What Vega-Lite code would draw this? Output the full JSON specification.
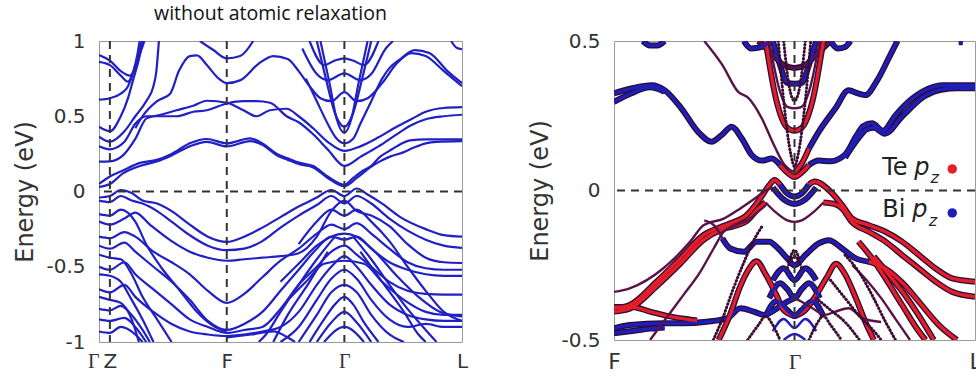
{
"$schema": "https://vega.github.io/schema/vega-lite/v6.json",
"padding": {"left": 13, "top": 3, "right": 0, "bottom": 0},
"bounds": "flush",
"spacing": 152,
"background": "white",
"config": {
  "view": {"stroke": "#9a9a9a", "strokeWidth": 1},
  "axis": {"grid": false, "ticks": false, "domain": false, "labelFont": "DejaVu Sans", "labelColor": "#333", "titleFont": "DejaVu Sans", "titleColor": "#333", "titleFontWeight": "normal", "labelFontSize": 20, "titleFontSize": 24}
},
"datasets": {
"left": [
{"b":"A1","k":0,"E":0.05},{"b":"A1","k":0.03,"E":0.1},{"b":"A1","k":0.066,"E":0.14},{"b":"A1","k":0.113,"E":0.19},{"b":"A1","k":0.159,"E":0.21},{"b":"A1","k":0.2,"E":0.25},{"b":"A1","k":0.25,"E":0.32},{"b":"A1","k":0.297,"E":0.349},{"b":"A1","k":0.352,"E":0.32},{"b":"A1","k":0.416,"E":0.353},{"b":"A1","k":0.45,"E":0.32},{"b":"A1","k":0.49,"E":0.25},{"b":"A1","k":0.52,"E":0.22},{"b":"A1","k":0.554,"E":0.19},{"b":"A1","k":0.59,"E":0.17},{"b":"A1","k":0.63,"E":0.1},{"b":"A1","k":0.676,"E":0.045},{"b":"A1","k":0.7,"E":0.09},{"b":"A1","k":0.728,"E":0.14},{"b":"A1","k":0.75,"E":0.17},{"b":"A1","k":0.774,"E":0.23},{"b":"A1","k":0.8,"E":0.27},{"b":"A1","k":0.82,"E":0.3},{"b":"A1","k":0.857,"E":0.34},{"b":"A1","k":0.9,"E":0.347},{"b":"A1","k":1,"E":0.347},
{"b":"A2","k":0,"E":0.03},{"b":"A2","k":0.03,"E":0.05},{"b":"A2","k":0.066,"E":0.12},{"b":"A2","k":0.113,"E":0.17},{"b":"A2","k":0.159,"E":0.2},{"b":"A2","k":0.2,"E":0.24},{"b":"A2","k":0.25,"E":0.3},{"b":"A2","k":0.297,"E":0.33},{"b":"A2","k":0.352,"E":0.3},{"b":"A2","k":0.416,"E":0.335},{"b":"A2","k":0.45,"E":0.31},{"b":"A2","k":0.49,"E":0.24},{"b":"A2","k":0.52,"E":0.21},{"b":"A2","k":0.554,"E":0.18},{"b":"A2","k":0.59,"E":0.16},{"b":"A2","k":0.63,"E":0.09},{"b":"A2","k":0.676,"E":0.035},{"b":"A2","k":0.71,"E":0.09},{"b":"A2","k":0.747,"E":0.16},{"b":"A2","k":0.774,"E":0.2},{"b":"A2","k":0.8,"E":0.23},{"b":"A2","k":0.838,"E":0.26},{"b":"A2","k":0.866,"E":0.29},{"b":"A2","k":0.9,"E":0.32},{"b":"A2","k":0.93,"E":0.33},{"b":"A2","k":1,"E":0.335},
{"b":"B1","k":0,"E":0.198},{"b":"B1","k":0.03,"E":0.2},{"b":"B1","k":0.066,"E":0.24},{"b":"B1","k":0.1,"E":0.35},{"b":"B1","k":0.131,"E":0.486},{"b":"B1","k":0.17,"E":0.51},{"b":"B1","k":0.214,"E":0.54},{"b":"B1","k":0.26,"E":0.57},{"b":"B1","k":0.297,"E":0.603},{"b":"B1","k":0.352,"E":0.59},{"b":"B1","k":0.398,"E":0.54},{"b":"B1","k":0.434,"E":0.5},{"b":"B1","k":0.471,"E":0.54},{"b":"B1","k":0.517,"E":0.55},{"b":"B1","k":0.55,"E":0.5},{"b":"B1","k":0.59,"E":0.42},{"b":"B1","k":0.63,"E":0.33},{"b":"B1","k":0.676,"E":0.27},{"b":"B1","k":0.72,"E":0.3},{"b":"B1","k":0.77,"E":0.36},{"b":"B1","k":0.82,"E":0.43},{"b":"B1","k":0.86,"E":0.48},{"b":"B1","k":0.9,"E":0.53},{"b":"B1","k":0.95,"E":0.555},{"b":"B1","k":1,"E":0.56},
{"b":"B2","k":0,"E":0.3},{"b":"B2","k":0.03,"E":0.28},{"b":"B2","k":0.07,"E":0.33},{"b":"B2","k":0.1,"E":0.45},{"b":"B2","k":0.13,"E":0.5},{"b":"B2","k":0.214,"E":0.5},{"b":"B2","k":0.26,"E":0.53},{"b":"B2","k":0.297,"E":0.54},{"b":"B2","k":0.352,"E":0.585},{"b":"B2","k":0.398,"E":0.6},{"b":"B2","k":0.434,"E":0.6},{"b":"B2","k":0.471,"E":0.59},{"b":"B2","k":0.517,"E":0.5},{"b":"B2","k":0.55,"E":0.46},{"b":"B2","k":0.59,"E":0.38},{"b":"B2","k":0.63,"E":0.28},{"b":"B2","k":0.676,"E":0.17},{"b":"B2","k":0.72,"E":0.23},{"b":"B2","k":0.77,"E":0.3},{"b":"B2","k":0.82,"E":0.38},{"b":"B2","k":0.86,"E":0.44},{"b":"B2","k":0.9,"E":0.48},{"b":"B2","k":0.95,"E":0.5},{"b":"B2","k":1,"E":0.51},
{"b":"D","k":0.1,"E":0.42},{"b":"D","k":0.12,"E":0.5},{"b":"D","k":0.16,"E":0.6},{"b":"D","k":0.196,"E":0.65},{"b":"D","k":0.22,"E":0.8},{"b":"D","k":0.25,"E":0.9},{"b":"D","k":0.27,"E":0.905},{"b":"D","k":0.297,"E":0.84},{"b":"D","k":0.33,"E":0.75},{"b":"D","k":0.352,"E":0.72},{"b":"D","k":0.39,"E":0.74},{"b":"D","k":0.44,"E":0.85},{"b":"D","k":0.48,"E":0.9},{"b":"D","k":0.52,"E":0.88},{"b":"D","k":0.55,"E":0.8},{"b":"D","k":0.58,"E":0.7},{"b":"D","k":0.61,"E":0.62},{"b":"D","k":0.64,"E":0.6},{"b":"D","k":0.676,"E":0.66},{"b":"D","k":0.71,"E":0.6},{"b":"D","k":0.74,"E":0.62},{"b":"D","k":0.78,"E":0.72},{"b":"D","k":0.82,"E":0.85},{"b":"D","k":0.86,"E":0.92},{"b":"D","k":0.9,"E":0.9},{"b":"D","k":0.95,"E":0.8},{"b":"D","k":1,"E":0.7},
{"b":"E1","k":0.278,"E":1.0},{"b":"E1","k":0.315,"E":0.94},{"b":"E1","k":0.352,"E":0.885},{"b":"E1","k":0.389,"E":0.9},{"b":"E1","k":0.425,"E":1.0},
{"b":"V1","k":0.6,"E":1.0},{"b":"V1","k":0.625,"E":0.75},{"b":"V1","k":0.65,"E":0.52},{"b":"V1","k":0.676,"E":0.43},{"b":"V1","k":0.7,"E":0.52},{"b":"V1","k":0.725,"E":0.75},{"b":"V1","k":0.75,"E":1.0},
{"b":"V2","k":0.61,"E":1.0},{"b":"V2","k":0.635,"E":0.72},{"b":"V2","k":0.655,"E":0.48},{"b":"V2","k":0.676,"E":0.39},{"b":"V2","k":0.695,"E":0.48},{"b":"V2","k":0.715,"E":0.72},{"b":"V2","k":0.74,"E":1.0},
{"b":"V3","k":0.57,"E":0.75},{"b":"V3","k":0.6,"E":0.6},{"b":"V3","k":0.63,"E":0.45},{"b":"V3","k":0.655,"E":0.35},{"b":"V3","k":0.676,"E":0.32},{"b":"V3","k":0.7,"E":0.35},{"b":"V3","k":0.72,"E":0.45},{"b":"V3","k":0.75,"E":0.6},{"b":"V3","k":0.78,"E":0.75},{"b":"V3","k":0.8,"E":0.82},{"b":"V3","k":0.83,"E":0.88},{"b":"V3","k":0.87,"E":0.94},{"b":"V3","k":0.91,"E":0.92},{"b":"V3","k":0.96,"E":0.8},{"b":"V3","k":1,"E":0.72},
{"b":"W1","k":0.58,"E":1.0},{"b":"W1","k":0.62,"E":0.84},{"b":"W1","k":0.65,"E":0.87},{"b":"W1","k":0.676,"E":0.885},{"b":"W1","k":0.7,"E":0.87},{"b":"W1","k":0.73,"E":0.84},{"b":"W1","k":0.77,"E":1.0},
{"b":"W2","k":0.56,"E":0.95},{"b":"W2","k":0.6,"E":0.78},{"b":"W2","k":0.63,"E":0.74},{"b":"W2","k":0.676,"E":0.785},{"b":"W2","k":0.72,"E":0.74},{"b":"W2","k":0.75,"E":0.78},{"b":"W2","k":0.79,"E":0.95},{"b":"W2","k":0.81,"E":1.0},
{"b":"S1","k":0,"E":0.907},{"b":"S1","k":0.03,"E":0.87},{"b":"S1","k":0.06,"E":0.8},{"b":"S1","k":0.085,"E":0.77},{"b":"S1","k":0.1,"E":0.82},{"b":"S1","k":0.115,"E":0.93},{"b":"S1","k":0.125,"E":1.0},
{"b":"S2","k":0,"E":0.862},{"b":"S2","k":0.03,"E":0.84},{"b":"S2","k":0.06,"E":0.77},{"b":"S2","k":0.08,"E":0.73},{"b":"S2","k":0.095,"E":0.8},{"b":"S2","k":0.108,"E":0.9},{"b":"S2","k":0.118,"E":1.0},
{"b":"S3","k":0,"E":0.61},{"b":"S3","k":0.03,"E":0.62},{"b":"S3","k":0.06,"E":0.65},{"b":"S3","k":0.08,"E":0.7},{"b":"S3","k":0.095,"E":0.8},{"b":"S3","k":0.105,"E":0.9},{"b":"S3","k":0.112,"E":1.0},
{"b":"S4","k":0,"E":0.43},{"b":"S4","k":0.03,"E":0.4},{"b":"S4","k":0.06,"E":0.5},{"b":"S4","k":0.08,"E":0.62},{"b":"S4","k":0.095,"E":0.75},{"b":"S4","k":0.11,"E":0.88},{"b":"S4","k":0.12,"E":1.0},
{"b":"S5","k":0,"E":0.364},{"b":"S5","k":0.03,"E":0.33},{"b":"S5","k":0.07,"E":0.4},{"b":"S5","k":0.1,"E":0.5},{"b":"S5","k":0.13,"E":0.6},{"b":"S5","k":0.15,"E":0.7},{"b":"S5","k":0.158,"E":0.8},{"b":"S5","k":0.165,"E":1.0},
{"b":"T1","k":0.97,"E":1.0},{"b":"T1","k":0.985,"E":0.955},{"b":"T1","k":1,"E":0.945},
{"b":"v1","k":0,"E":-0.04},{"b":"v1","k":0.03,"E":-0.03},{"b":"v1","k":0.06,"E":0.01},{"b":"v1","k":0.09,"E":-0.01},{"b":"v1","k":0.12,"E":-0.06},{"b":"v1","k":0.16,"E":-0.08},{"b":"v1","k":0.2,"E":-0.13},{"b":"v1","k":0.25,"E":-0.22},{"b":"v1","k":0.3,"E":-0.3},{"b":"v1","k":0.352,"E":-0.335},{"b":"v1","k":0.4,"E":-0.3},{"b":"v1","k":0.45,"E":-0.24},{"b":"v1","k":0.5,"E":-0.17},{"b":"v1","k":0.55,"E":-0.1},{"b":"v1","k":0.6,"E":-0.04},{"b":"v1","k":0.64,"E":0.01},{"b":"v1","k":0.676,"E":-0.03},{"b":"v1","k":0.71,"E":0.02},{"b":"v1","k":0.74,"E":-0.02},{"b":"v1","k":0.78,"E":-0.08},{"b":"v1","k":0.83,"E":-0.17},{"b":"v1","k":0.9,"E":-0.25},{"b":"v1","k":0.95,"E":-0.29},{"b":"v1","k":1,"E":-0.3},
{"b":"v2","k":0,"E":-0.06},{"b":"v2","k":0.03,"E":-0.07},{"b":"v2","k":0.06,"E":-0.03},{"b":"v2","k":0.09,"E":-0.06},{"b":"v2","k":0.12,"E":-0.08},{"b":"v2","k":0.16,"E":-0.13},{"b":"v2","k":0.2,"E":-0.2},{"b":"v2","k":0.25,"E":-0.29},{"b":"v2","k":0.3,"E":-0.36},{"b":"v2","k":0.352,"E":-0.39},{"b":"v2","k":0.4,"E":-0.38},{"b":"v2","k":0.45,"E":-0.33},{"b":"v2","k":0.5,"E":-0.24},{"b":"v2","k":0.55,"E":-0.16},{"b":"v2","k":0.6,"E":-0.09},{"b":"v2","k":0.64,"E":-0.03},{"b":"v2","k":0.676,"E":-0.08},{"b":"v2","k":0.71,"E":-0.03},{"b":"v2","k":0.75,"E":-0.08},{"b":"v2","k":0.8,"E":-0.18},{"b":"v2","k":0.85,"E":-0.26},{"b":"v2","k":0.9,"E":-0.32},{"b":"v2","k":0.95,"E":-0.36},{"b":"v2","k":1,"E":-0.375},
{"b":"v3","k":0,"E":-0.2},{"b":"v3","k":0.03,"E":-0.22},{"b":"v3","k":0.07,"E":-0.18},{"b":"v3","k":0.1,"E":-0.14},{"b":"v3","k":0.14,"E":-0.22},{"b":"v3","k":0.2,"E":-0.33},{"b":"v3","k":0.25,"E":-0.4},{"b":"v3","k":0.3,"E":-0.44},{"b":"v3","k":0.352,"E":-0.46},{"b":"v3","k":0.4,"E":-0.45},{"b":"v3","k":0.45,"E":-0.44},{"b":"v3","k":0.5,"E":-0.43},{"b":"v3","k":0.55,"E":-0.41},{"b":"v3","k":0.6,"E":-0.3},{"b":"v3","k":0.64,"E":-0.13},{"b":"v3","k":0.676,"E":-0.06},{"b":"v3","k":0.71,"E":-0.13},{"b":"v3","k":0.75,"E":-0.16},{"b":"v3","k":0.8,"E":-0.23},{"b":"v3","k":0.85,"E":-0.35},{"b":"v3","k":0.9,"E":-0.44},{"b":"v3","k":0.95,"E":-0.47},{"b":"v3","k":1,"E":-0.475},
{"b":"v4","k":0,"E":-0.3},{"b":"v4","k":0.03,"E":-0.31},{"b":"v4","k":0.07,"E":-0.27},{"b":"v4","k":0.1,"E":-0.3},{"b":"v4","k":0.15,"E":-0.4},{"b":"v4","k":0.2,"E":-0.47},{"b":"v4","k":0.25,"E":-0.55},{"b":"v4","k":0.3,"E":-0.66},{"b":"v4","k":0.352,"E":-0.74},{"b":"v4","k":0.4,"E":-0.68},{"b":"v4","k":0.45,"E":-0.57},{"b":"v4","k":0.5,"E":-0.46},{"b":"v4","k":0.55,"E":-0.38},{"b":"v4","k":0.6,"E":-0.28},{"b":"v4","k":0.64,"E":-0.22},{"b":"v4","k":0.676,"E":-0.25},{"b":"v4","k":0.71,"E":-0.21},{"b":"v4","k":0.75,"E":-0.28},{"b":"v4","k":0.8,"E":-0.38},{"b":"v4","k":0.85,"E":-0.47},{"b":"v4","k":0.9,"E":-0.51},{"b":"v4","k":0.95,"E":-0.52},{"b":"v4","k":1,"E":-0.52},
{"b":"v5","k":0,"E":-0.36},{"b":"v5","k":0.03,"E":-0.38},{"b":"v5","k":0.07,"E":-0.34},{"b":"v5","k":0.1,"E":-0.4},{"b":"v5","k":0.15,"E":-0.5},{"b":"v5","k":0.2,"E":-0.6},{"b":"v5","k":0.25,"E":-0.72},{"b":"v5","k":0.3,"E":-0.86},{"b":"v5","k":0.352,"E":-0.92},{"b":"v5","k":0.4,"E":-0.88},{"b":"v5","k":0.45,"E":-0.8},{"b":"v5","k":0.5,"E":-0.66},{"b":"v5","k":0.55,"E":-0.52},{"b":"v5","k":0.6,"E":-0.38},{"b":"v5","k":0.64,"E":-0.3},{"b":"v5","k":0.676,"E":-0.32},{"b":"v5","k":0.71,"E":-0.3},{"b":"v5","k":0.75,"E":-0.38},{"b":"v5","k":0.8,"E":-0.47},{"b":"v5","k":0.85,"E":-0.52},{"b":"v5","k":0.9,"E":-0.55},{"b":"v5","k":0.95,"E":-0.56},{"b":"v5","k":1,"E":-0.56},
{"b":"v6","k":0,"E":-0.5},{"b":"v6","k":0.03,"E":-0.52},{"b":"v6","k":0.07,"E":-0.47},{"b":"v6","k":0.1,"E":-0.55},{"b":"v6","k":0.15,"E":-0.65},{"b":"v6","k":0.2,"E":-0.75},{"b":"v6","k":0.25,"E":-0.85},{"b":"v6","k":0.3,"E":-0.9},{"b":"v6","k":0.352,"E":-0.94},{"b":"v6","k":0.4,"E":-0.92},{"b":"v6","k":0.45,"E":-0.9},{"b":"v6","k":0.5,"E":-0.78},{"b":"v6","k":0.55,"E":-0.62},{"b":"v6","k":0.6,"E":-0.5},{"b":"v6","k":0.64,"E":-0.4},{"b":"v6","k":0.676,"E":-0.36},{"b":"v6","k":0.71,"E":-0.42},{"b":"v6","k":0.75,"E":-0.5},{"b":"v6","k":0.8,"E":-0.6},{"b":"v6","k":0.85,"E":-0.66},{"b":"v6","k":0.9,"E":-0.68},{"b":"v6","k":0.95,"E":-0.685},{"b":"v6","k":1,"E":-0.685},
{"b":"v7","k":0,"E":-0.65},{"b":"v7","k":0.03,"E":-0.67},{"b":"v7","k":0.07,"E":-0.62},{"b":"v7","k":0.1,"E":-0.7},{"b":"v7","k":0.15,"E":-0.8},{"b":"v7","k":0.2,"E":-0.88},{"b":"v7","k":0.25,"E":-0.93},{"b":"v7","k":0.3,"E":-0.95},{"b":"v7","k":0.352,"E":-0.96},{"b":"v7","k":0.4,"E":-0.95},{"b":"v7","k":0.45,"E":-0.93},{"b":"v7","k":0.5,"E":-0.9},{"b":"v7","k":0.55,"E":-0.8},{"b":"v7","k":0.6,"E":-0.62},{"b":"v7","k":0.64,"E":-0.5},{"b":"v7","k":0.676,"E":-0.43},{"b":"v7","k":0.71,"E":-0.5},{"b":"v7","k":0.75,"E":-0.62},{"b":"v7","k":0.8,"E":-0.75},{"b":"v7","k":0.85,"E":-0.82},{"b":"v7","k":0.9,"E":-0.85},{"b":"v7","k":0.95,"E":-0.86},{"b":"v7","k":1,"E":-0.86},
{"b":"v8","k":0.5,"E":-1.0},{"b":"v8","k":0.55,"E":-0.9},{"b":"v8","k":0.6,"E":-0.72},{"b":"v8","k":0.64,"E":-0.58},{"b":"v8","k":0.676,"E":-0.52},{"b":"v8","k":0.71,"E":-0.58},{"b":"v8","k":0.75,"E":-0.72},{"b":"v8","k":0.8,"E":-0.85},{"b":"v8","k":0.85,"E":-0.9},{"b":"v8","k":0.9,"E":-0.88},{"b":"v8","k":0.95,"E":-0.9},{"b":"v8","k":1,"E":-0.9},
{"b":"v9","k":0.55,"E":-1.0},{"b":"v9","k":0.6,"E":-0.82},{"b":"v9","k":0.64,"E":-0.67},{"b":"v9","k":0.676,"E":-0.62},{"b":"v9","k":0.71,"E":-0.67},{"b":"v9","k":0.75,"E":-0.82},{"b":"v9","k":0.8,"E":-0.95},{"b":"v9","k":0.84,"E":-1.0},
{"b":"v10","k":0.58,"E":-1.0},{"b":"v10","k":0.62,"E":-0.85},{"b":"v10","k":0.65,"E":-0.75},{"b":"v10","k":0.676,"E":-0.7},{"b":"v10","k":0.7,"E":-0.75},{"b":"v10","k":0.73,"E":-0.87},{"b":"v10","k":0.77,"E":-1.0},
{"b":"v11","k":0.6,"E":-1.0},{"b":"v11","k":0.64,"E":-0.87},{"b":"v11","k":0.676,"E":-0.8},{"b":"v11","k":0.71,"E":-0.87},{"b":"v11","k":0.75,"E":-1.0},
{"b":"v12","k":0.62,"E":-1.0},{"b":"v12","k":0.676,"E":-0.9},{"b":"v12","k":0.73,"E":-1.0},
{"b":"v13","k":0,"E":-0.15},{"b":"v13","k":0.03,"E":-0.16},{"b":"v13","k":0.06,"E":-0.12},{"b":"v13","k":0.1,"E":-0.2},{"b":"v13","k":0.13,"E":-0.35},{"b":"v13","k":0.17,"E":-0.5},{"b":"v13","k":0.22,"E":-0.65},{"b":"v13","k":0.27,"E":-0.8},{"b":"v13","k":0.32,"E":-0.9},{"b":"v13","k":0.352,"E":-0.93},
{"b":"v14","k":0,"E":-0.85},{"b":"v14","k":0.03,"E":-0.86},{"b":"v14","k":0.07,"E":-0.84},{"b":"v14","k":0.1,"E":-0.9},{"b":"v14","k":0.13,"E":-1.0},
{"b":"v15","k":0,"E":-0.55},{"b":"v15","k":0.03,"E":-0.56},{"b":"v15","k":0.06,"E":-0.6},{"b":"v15","k":0.09,"E":-0.72},{"b":"v15","k":0.12,"E":-0.85},{"b":"v15","k":0.15,"E":-1.0},
{"b":"v16","k":0,"E":-0.42},{"b":"v16","k":0.03,"E":-0.44},{"b":"v16","k":0.06,"E":-0.45},{"b":"v16","k":0.09,"E":-0.55},{"b":"v16","k":0.12,"E":-0.7},{"b":"v16","k":0.16,"E":-0.85},{"b":"v16","k":0.2,"E":-1.0},
{"b":"v17","k":0,"E":-0.7},{"b":"v17","k":0.03,"E":-0.72},{"b":"v17","k":0.06,"E":-0.74},{"b":"v17","k":0.09,"E":-0.85},{"b":"v17","k":0.11,"E":-1.0},
{"b":"v18","k":0.352,"E":-0.97},{"b":"v18","k":0.42,"E":-0.95},{"b":"v18","k":0.48,"E":-0.93},{"b":"v18","k":0.52,"E":-0.97},{"b":"v18","k":0.54,"E":-1.0},
{"b":"v19","k":0.7,"E":-0.3},{"b":"v19","k":0.75,"E":-0.45},{"b":"v19","k":0.8,"E":-0.62},{"b":"v19","k":0.85,"E":-0.78},{"b":"v19","k":0.9,"E":-0.92},{"b":"v19","k":0.93,"E":-1.0},
{"b":"v20","k":0.72,"E":-0.4},{"b":"v20","k":0.78,"E":-0.6},{"b":"v20","k":0.84,"E":-0.8},{"b":"v20","k":0.88,"E":-0.95},{"b":"v20","k":0.9,"E":-1.0},
{"b":"v21","k":0.44,"E":-1.0},{"b":"v21","k":0.46,"E":-0.95},{"b":"v21","k":0.5,"E":-0.8},{"b":"v21","k":0.55,"E":-0.62},{"b":"v21","k":0.6,"E":-0.45},{"b":"v21","k":0.65,"E":-0.3},
{"b":"v22","k":0.48,"E":-1.0},{"b":"v22","k":0.52,"E":-0.82},{"b":"v22","k":0.58,"E":-0.6},{"b":"v22","k":0.63,"E":-0.4},
{"b":"v23","k":0.55,"E":-0.35},{"b":"v23","k":0.6,"E":-0.2},{"b":"v23","k":0.64,"E":-0.12},{"b":"v23","k":0.676,"E":-0.16},{"b":"v23","k":0.71,"E":-0.12},{"b":"v23","k":0.75,"E":-0.2},{"b":"v23","k":0.8,"E":-0.33},{"b":"v23","k":0.85,"E":-0.5},{"b":"v23","k":0.9,"E":-0.66},{"b":"v23","k":0.95,"E":-0.8},{"b":"v23","k":1,"E":-0.86},
{"b":"v24","k":0.5,"E":-0.6},{"b":"v24","k":0.55,"E":-0.48},{"b":"v24","k":0.6,"E":-0.36},{"b":"v24","k":0.64,"E":-0.3},{"b":"v24","k":0.676,"E":-0.28},{"b":"v24","k":0.71,"E":-0.3},{"b":"v24","k":0.76,"E":-0.4},{"b":"v24","k":0.82,"E":-0.56},{"b":"v24","k":0.88,"E":-0.7},{"b":"v24","k":0.94,"E":-0.8},{"b":"v24","k":1,"E":-0.83},
{"b":"v25","k":0.52,"E":-0.72},{"b":"v25","k":0.57,"E":-0.6},{"b":"v25","k":0.62,"E":-0.48},{"b":"v25","k":0.676,"E":-0.46},{"b":"v25","k":0.73,"E":-0.48},{"b":"v25","k":0.78,"E":-0.6},{"b":"v25","k":0.84,"E":-0.72},{"b":"v25","k":0.9,"E":-0.8},{"b":"v25","k":0.95,"E":-0.82},{"b":"v25","k":1,"E":-0.82},
{"b":"v27","k":0,"E":-0.93},{"b":"v27","k":0.03,"E":-0.94},{"b":"v27","k":0.06,"E":-0.9},{"b":"v27","k":0.1,"E":-0.95},{"b":"v27","k":0.12,"E":-1.0},
{"b":"v28","k":0,"E":-0.78},{"b":"v28","k":0.03,"E":-0.79},{"b":"v28","k":0.06,"E":-0.76},{"b":"v28","k":0.09,"E":-0.82},{"b":"v28","k":0.12,"E":-0.92},{"b":"v28","k":0.14,"E":-1.0}
],
"right": [
{"b":"RC1a","o":"Bi","w":"strong","k":0,"E":0.325},{"b":"RC1a","o":"Bi","w":"strong","k":0.048,"E":0.341},{"b":"RC1a","o":"Bi","w":"strong","k":0.104,"E":0.352},{"b":"RC1a","o":"Bi","w":"strong","k":0.141,"E":0.335},{"b":"RC1a","o":"Bi","w":"strong","k":0.187,"E":0.274},{"b":"RC1a","o":"Bi","w":"strong","k":0.233,"E":0.196},{"b":"RC1a","o":"Bi","w":"strong","k":0.27,"E":0.163},{"b":"RC1a","o":"Bi","w":"strong","k":0.298,"E":0.185},{"b":"RC1a","o":"Bi","w":"strong","k":0.326,"E":0.213},{"b":"RC1a","o":"Bi","w":"strong","k":0.354,"E":0.174},{"b":"RC1a","o":"Bi","w":"strong","k":0.382,"E":0.118},{"b":"RC1a","o":"Bi","w":"strong","k":0.41,"E":0.1},{"b":"RC1a","o":"Bi","w":"strong","k":0.437,"E":0.107},{"b":"RC1a","o":"Bi","w":"strong","k":0.46,"E":0.085},
{"b":"RC1b","o":"Te","w":"strong","k":0.46,"E":0.085},{"b":"RC1b","o":"Te","w":"strong","k":0.48,"E":0.06},{"b":"RC1b","o":"Te","w":"strong","k":0.5,"E":0.045},{"b":"RC1b","o":"Te","w":"strong","k":0.52,"E":0.06},{"b":"RC1b","o":"Te","w":"strong","k":0.54,"E":0.085},
{"b":"RC1c","o":"Bi","w":"strong","k":0.54,"E":0.085},{"b":"RC1c","o":"Bi","w":"strong","k":0.567,"E":0.1},{"b":"RC1c","o":"Bi","w":"strong","k":0.6,"E":0.098},{"b":"RC1c","o":"Bi","w":"strong","k":0.64,"E":0.12},{"b":"RC1c","o":"Bi","w":"strong","k":0.67,"E":0.18},{"b":"RC1c","o":"Bi","w":"strong","k":0.69,"E":0.215},{"b":"RC1c","o":"Bi","w":"strong","k":0.715,"E":0.225},{"b":"RC1c","o":"Bi","w":"strong","k":0.745,"E":0.2},{"b":"RC1c","o":"Bi","w":"strong","k":0.78,"E":0.252},{"b":"RC1c","o":"Bi","w":"strong","k":0.826,"E":0.307},{"b":"RC1c","o":"Bi","w":"strong","k":0.872,"E":0.341},{"b":"RC1c","o":"Bi","w":"strong","k":0.91,"E":0.352},{"b":"RC1c","o":"Bi","w":"strong","k":1,"E":0.352},
{"b":"RC2a","o":"Bi","w":"strong","k":0,"E":0.296},{"b":"RC2a","o":"Bi","w":"strong","k":0.048,"E":0.325},{"b":"RC2a","o":"Bi","w":"strong","k":0.1,"E":0.345},{"b":"RC2a","o":"Bi","w":"strong","k":0.14,"E":0.33},
{"b":"RC2b","o":"Bi","w":"strong","k":0.64,"E":0.11},{"b":"RC2b","o":"Bi","w":"strong","k":0.68,"E":0.18},{"b":"RC2b","o":"Bi","w":"strong","k":0.7,"E":0.205},{"b":"RC2b","o":"Bi","w":"strong","k":0.72,"E":0.21},{"b":"RC2b","o":"Bi","w":"strong","k":0.75,"E":0.19},{"b":"RC2b","o":"Bi","w":"strong","k":0.8,"E":0.25},{"b":"RC2b","o":"Bi","w":"strong","k":0.86,"E":0.315},{"b":"RC2b","o":"Bi","w":"strong","k":0.91,"E":0.338},{"b":"RC2b","o":"Bi","w":"strong","k":0.95,"E":0.342},{"b":"RC2b","o":"Bi","w":"strong","k":1,"E":0.342},
{"b":"RC3a","o":"mix","w":"mid","k":0.25,"E":0.5},{"b":"RC3a","o":"mix","w":"mid","k":0.3,"E":0.42},{"b":"RC3a","o":"mix","w":"mid","k":0.344,"E":0.33},{"b":"RC3a","o":"mix","w":"mid","k":0.372,"E":0.31},{"b":"RC3a","o":"mix","w":"mid","k":0.41,"E":0.24},{"b":"RC3a","o":"mix","w":"mid","k":0.44,"E":0.16},{"b":"RC3a","o":"mix","w":"mid","k":0.47,"E":0.09},{"b":"RC3a","o":"mix","w":"mid","k":0.5,"E":0.06},
{"b":"RC3b","o":"Te","w":"strong","k":0.5,"E":0.06},{"b":"RC3b","o":"Te","w":"strong","k":0.52,"E":0.09},{"b":"RC3b","o":"Te","w":"strong","k":0.54,"E":0.14},
{"b":"RC3c","o":"Bi","w":"strong","k":0.54,"E":0.14},{"b":"RC3c","o":"Bi","w":"strong","k":0.567,"E":0.196},{"b":"RC3c","o":"Bi","w":"strong","k":0.613,"E":0.274},{"b":"RC3c","o":"Bi","w":"strong","k":0.65,"E":0.335},{"b":"RC3c","o":"Bi","w":"strong","k":0.678,"E":0.324},{"b":"RC3c","o":"Bi","w":"strong","k":0.696,"E":0.319},{"b":"RC3c","o":"Bi","w":"strong","k":0.73,"E":0.37},{"b":"RC3c","o":"Bi","w":"strong","k":0.76,"E":0.44},{"b":"RC3c","o":"Bi","w":"strong","k":0.785,"E":0.5},
{"b":"U1","o":"mix","w":"strong","k":0.4,"E":0.5},{"b":"U1","o":"mix","w":"strong","k":0.44,"E":0.455},{"b":"U1","o":"mix","w":"strong","k":0.47,"E":0.42},{"b":"U1","o":"mix","w":"strong","k":0.5,"E":0.41},{"b":"U1","o":"mix","w":"strong","k":0.53,"E":0.42},{"b":"U1","o":"mix","w":"strong","k":0.56,"E":0.455},{"b":"U1","o":"mix","w":"strong","k":0.6,"E":0.5},
{"b":"U2","o":"Bi","w":"strong","k":0.44,"E":0.5},{"b":"U2","o":"Bi","w":"strong","k":0.46,"E":0.42},{"b":"U2","o":"Bi","w":"strong","k":0.48,"E":0.36},{"b":"U2","o":"Bi","w":"strong","k":0.5,"E":0.357},{"b":"U2","o":"Bi","w":"strong","k":0.52,"E":0.36},{"b":"U2","o":"Bi","w":"strong","k":0.54,"E":0.42},{"b":"U2","o":"Bi","w":"strong","k":0.56,"E":0.5},
{"b":"U3","o":"mix","w":"mid","k":0.43,"E":0.5},{"b":"U3","o":"mix","w":"mid","k":0.46,"E":0.33},{"b":"U3","o":"mix","w":"mid","k":0.48,"E":0.28},{"b":"U3","o":"mix","w":"mid","k":0.5,"E":0.275},{"b":"U3","o":"mix","w":"mid","k":0.52,"E":0.28},{"b":"U3","o":"mix","w":"mid","k":0.54,"E":0.33},{"b":"U3","o":"mix","w":"mid","k":0.57,"E":0.5},
{"b":"U4","o":"Te","w":"strong","k":0.42,"E":0.5},{"b":"U4","o":"Te","w":"strong","k":0.45,"E":0.3},{"b":"U4","o":"Te","w":"strong","k":0.48,"E":0.21},{"b":"U4","o":"Te","w":"strong","k":0.5,"E":0.2},{"b":"U4","o":"Te","w":"strong","k":0.52,"E":0.21},{"b":"U4","o":"Te","w":"strong","k":0.55,"E":0.3},{"b":"U4","o":"Te","w":"strong","k":0.58,"E":0.5},
{"b":"U5","o":"mix","w":"weak","k":0.455,"E":0.5},{"b":"U5","o":"mix","w":"weak","k":0.47,"E":0.3},{"b":"U5","o":"mix","w":"weak","k":0.49,"E":0.12},{"b":"U5","o":"mix","w":"weak","k":0.5,"E":0.08},{"b":"U5","o":"mix","w":"weak","k":0.51,"E":0.12},{"b":"U5","o":"mix","w":"weak","k":0.53,"E":0.3},{"b":"U5","o":"mix","w":"weak","k":0.545,"E":0.5},
{"b":"U6","o":"mix","w":"weak","k":0.47,"E":0.5},{"b":"U6","o":"mix","w":"weak","k":0.485,"E":0.35},{"b":"U6","o":"mix","w":"weak","k":0.5,"E":0.3},{"b":"U6","o":"mix","w":"weak","k":0.515,"E":0.35},{"b":"U6","o":"mix","w":"weak","k":0.53,"E":0.5},
{"b":"TA1","o":"Bi","w":"strong","k":0.08,"E":0.5},{"b":"TA1","o":"Bi","w":"strong","k":0.1,"E":0.485},{"b":"TA1","o":"Bi","w":"strong","k":0.12,"E":0.485},{"b":"TA1","o":"Bi","w":"strong","k":0.14,"E":0.5},
{"b":"TA2","o":"Bi","w":"strong","k":0.6,"E":0.5},{"b":"TA2","o":"Bi","w":"strong","k":0.62,"E":0.475},{"b":"TA2","o":"Bi","w":"strong","k":0.64,"E":0.48},{"b":"TA2","o":"Bi","w":"strong","k":0.655,"E":0.5},
{"b":"TA3","o":"Bi","w":"strong","k":0.36,"E":0.5},{"b":"TA3","o":"Bi","w":"strong","k":0.38,"E":0.475},{"b":"TA3","o":"Bi","w":"strong","k":0.41,"E":0.48},{"b":"TA3","o":"Bi","w":"strong","k":0.43,"E":0.5},
{"b":"TA4","o":"Bi","w":"strong","k":0.955,"E":0.496},{"b":"TA4","o":"Bi","w":"strong","k":0.966,"E":0.496},
{"b":"RV1a","o":"Te","w":"strong","k":0,"E":-0.394},{"b":"RV1a","o":"Te","w":"strong","k":0.0435,"E":-0.383},{"b":"RV1a","o":"Te","w":"strong","k":0.118,"E":-0.305},{"b":"RV1a","o":"Te","w":"strong","k":0.183,"E":-0.228},{"b":"RV1a","o":"Te","w":"strong","k":0.248,"E":-0.149},{"b":"RV1a","o":"Te","w":"strong","k":0.3,"E":-0.12},{"b":"RV1a","o":"Te","w":"strong","k":0.322,"E":-0.11},{"b":"RV1a","o":"Te","w":"strong","k":0.368,"E":-0.082},{"b":"RV1a","o":"Te","w":"strong","k":0.405,"E":-0.027},{"b":"RV1a","o":"Te","w":"strong","k":0.43,"E":0.018},{"b":"RV1a","o":"Te","w":"strong","k":0.445,"E":0.035},{"b":"RV1a","o":"Te","w":"strong","k":0.46,"E":0.02},
{"b":"RV1b","o":"Bi","w":"strong","k":0.46,"E":0.02},{"b":"RV1b","o":"Bi","w":"strong","k":0.48,"E":-0.01},{"b":"RV1b","o":"Bi","w":"strong","k":0.5,"E":-0.02},{"b":"RV1b","o":"Bi","w":"strong","k":0.52,"E":-0.01},{"b":"RV1b","o":"Bi","w":"strong","k":0.54,"E":0.02},
{"b":"RV1c","o":"Te","w":"strong","k":0.54,"E":0.02},{"b":"RV1c","o":"Te","w":"strong","k":0.556,"E":0.03},{"b":"RV1c","o":"Te","w":"strong","k":0.6,"E":-0.004},{"b":"RV1c","o":"Te","w":"strong","k":0.632,"E":-0.049},{"b":"RV1c","o":"Te","w":"strong","k":0.659,"E":-0.093},{"b":"RV1c","o":"Te","w":"strong","k":0.706,"E":-0.116},{"b":"RV1c","o":"Te","w":"strong","k":0.752,"E":-0.138},{"b":"RV1c","o":"Te","w":"strong","k":0.798,"E":-0.171},{"b":"RV1c","o":"Te","w":"strong","k":0.845,"E":-0.216},{"b":"RV1c","o":"Te","w":"strong","k":0.891,"E":-0.261},{"b":"RV1c","o":"Te","w":"strong","k":0.937,"E":-0.294},{"b":"RV1c","o":"Te","w":"strong","k":1,"E":-0.305},
{"b":"RV2a","o":"Te","w":"strong","k":0,"E":-0.405},{"b":"RV2a","o":"Te","w":"strong","k":0.0435,"E":-0.395},{"b":"RV2a","o":"Te","w":"strong","k":0.118,"E":-0.32},{"b":"RV2a","o":"Te","w":"strong","k":0.183,"E":-0.245},{"b":"RV2a","o":"Te","w":"strong","k":0.248,"E":-0.165},{"b":"RV2a","o":"Te","w":"strong","k":0.3,"E":-0.13},{"b":"RV2a","o":"Te","w":"strong","k":0.33,"E":-0.12},{"b":"RV2a","o":"Te","w":"strong","k":0.37,"E":-0.1},{"b":"RV2a","o":"Te","w":"strong","k":0.4,"E":-0.06},{"b":"RV2a","o":"Te","w":"strong","k":0.42,"E":-0.04},
{"b":"RV2b","o":"mix","w":"mid","k":0.42,"E":-0.04},{"b":"RV2b","o":"mix","w":"mid","k":0.45,"E":-0.075},{"b":"RV2b","o":"mix","w":"mid","k":0.48,"E":-0.1},{"b":"RV2b","o":"mix","w":"mid","k":0.5,"E":-0.105},{"b":"RV2b","o":"mix","w":"mid","k":0.52,"E":-0.1},{"b":"RV2b","o":"mix","w":"mid","k":0.55,"E":-0.075},{"b":"RV2b","o":"mix","w":"mid","k":0.58,"E":-0.04},
{"b":"RV2c","o":"Te","w":"strong","k":0.58,"E":-0.04},{"b":"RV2c","o":"Te","w":"strong","k":0.61,"E":-0.045},{"b":"RV2c","o":"Te","w":"strong","k":0.632,"E":-0.06},{"b":"RV2c","o":"Te","w":"strong","k":0.659,"E":-0.105},{"b":"RV2c","o":"Te","w":"strong","k":0.706,"E":-0.138},{"b":"RV2c","o":"Te","w":"strong","k":0.752,"E":-0.171},{"b":"RV2c","o":"Te","w":"strong","k":0.798,"E":-0.216},{"b":"RV2c","o":"Te","w":"strong","k":0.845,"E":-0.261},{"b":"RV2c","o":"Te","w":"strong","k":0.891,"E":-0.305},{"b":"RV2c","o":"Te","w":"strong","k":0.937,"E":-0.339},{"b":"RV2c","o":"Te","w":"strong","k":1,"E":-0.355},
{"b":"RV3a","o":"mix","w":"mid","k":0,"E":-0.339},{"b":"RV3a","o":"mix","w":"mid","k":0.0435,"E":-0.327},{"b":"RV3a","o":"mix","w":"mid","k":0.137,"E":-0.26},{"b":"RV3a","o":"mix","w":"mid","k":0.211,"E":-0.171},{"b":"RV3a","o":"mix","w":"mid","k":0.248,"E":-0.116},{"b":"RV3a","o":"mix","w":"mid","k":0.304,"E":-0.094},{"b":"RV3a","o":"mix","w":"mid","k":0.35,"E":-0.06},{"b":"RV3a","o":"mix","w":"mid","k":0.39,"E":-0.027},{"b":"RV3a","o":"mix","w":"mid","k":0.42,"E":0.0},{"b":"RV3a","o":"mix","w":"mid","k":0.44,"E":0.01},
{"b":"RV3b","o":"Bi","w":"strong","k":0.44,"E":0.01},{"b":"RV3b","o":"Bi","w":"strong","k":0.47,"E":-0.03},{"b":"RV3b","o":"Bi","w":"strong","k":0.5,"E":-0.045},{"b":"RV3b","o":"Bi","w":"strong","k":0.53,"E":-0.03},{"b":"RV3b","o":"Bi","w":"strong","k":0.56,"E":0.01},
{"b":"RV4a","o":"mix","w":"mid","k":0.25,"E":-0.1},{"b":"RV4a","o":"mix","w":"mid","k":0.28,"E":-0.12},{"b":"RV4a","o":"mix","w":"mid","k":0.3,"E":-0.16},
{"b":"RV4b","o":"Bi","w":"strong","k":0.3,"E":-0.16},{"b":"RV4b","o":"Bi","w":"strong","k":0.322,"E":-0.194},{"b":"RV4b","o":"Bi","w":"strong","k":0.36,"E":-0.205},{"b":"RV4b","o":"Bi","w":"strong","k":0.395,"E":-0.171},{"b":"RV4b","o":"Bi","w":"strong","k":0.43,"E":-0.171},{"b":"RV4b","o":"Bi","w":"strong","k":0.455,"E":-0.194},{"b":"RV4b","o":"Bi","w":"strong","k":0.48,"E":-0.227},{"b":"RV4b","o":"Bi","w":"strong","k":0.5,"E":-0.25},{"b":"RV4b","o":"Bi","w":"strong","k":0.53,"E":-0.216},{"b":"RV4b","o":"Bi","w":"strong","k":0.567,"E":-0.177},{"b":"RV4b","o":"Bi","w":"strong","k":0.595,"E":-0.166},{"b":"RV4b","o":"Bi","w":"strong","k":0.632,"E":-0.194},{"b":"RV4b","o":"Bi","w":"strong","k":0.67,"E":-0.227},{"b":"RV4b","o":"Bi","w":"strong","k":0.706,"E":-0.238},
{"b":"RV4c","o":"Te","w":"strong","k":0.706,"E":-0.238},{"b":"RV4c","o":"Te","w":"strong","k":0.75,"E":-0.26},{"b":"RV4c","o":"Te","w":"strong","k":0.8,"E":-0.31},{"b":"RV4c","o":"Te","w":"strong","k":0.85,"E":-0.38},{"b":"RV4c","o":"Te","w":"strong","k":0.9,"E":-0.45},{"b":"RV4c","o":"Te","w":"strong","k":0.95,"E":-0.5},
{"b":"RV5","o":"Bi","w":"strong","k":0,"E":-0.461},{"b":"RV5","o":"Bi","w":"strong","k":0.0435,"E":-0.45},{"b":"RV5","o":"Bi","w":"strong","k":0.137,"E":-0.444},{"b":"RV5","o":"Bi","w":"strong","k":0.192,"E":-0.444},{"b":"RV5","o":"Bi","w":"strong","k":0.257,"E":-0.439},{"b":"RV5","o":"Bi","w":"strong","k":0.313,"E":-0.428},{"b":"RV5","o":"Bi","w":"strong","k":0.35,"E":-0.394},{"b":"RV5","o":"Bi","w":"strong","k":0.387,"E":-0.405},{"b":"RV5","o":"Bi","w":"strong","k":0.415,"E":-0.416},{"b":"RV5","o":"Bi","w":"strong","k":0.452,"E":-0.394},{"b":"RV5","o":"Bi","w":"strong","k":0.48,"E":-0.372},{"b":"RV5","o":"Bi","w":"strong","k":0.5,"E":-0.36},
{"b":"RV5r","o":"mix","w":"mid","k":0.5,"E":-0.36},{"b":"RV5r","o":"mix","w":"mid","k":0.52,"E":-0.372},{"b":"RV5r","o":"mix","w":"mid","k":0.55,"E":-0.394},{"b":"RV5r","o":"mix","w":"mid","k":0.585,"E":-0.416},{"b":"RV5r","o":"mix","w":"mid","k":0.613,"E":-0.405},{"b":"RV5r","o":"mix","w":"mid","k":0.65,"E":-0.394},{"b":"RV5r","o":"mix","w":"mid","k":0.69,"E":-0.428},{"b":"RV5r","o":"mix","w":"mid","k":0.74,"E":-0.44},
{"b":"RV5b","o":"Bi","w":"strong","k":0,"E":-0.477},{"b":"RV5b","o":"Bi","w":"strong","k":0.05,"E":-0.47},{"b":"RV5b","o":"Bi","w":"strong","k":0.1,"E":-0.462},{"b":"RV5b","o":"Bi","w":"strong","k":0.14,"E":-0.458},
{"b":"RV6","o":"Te","w":"strong","k":0,"E":-0.39},{"b":"RV6","o":"Te","w":"strong","k":0.05,"E":-0.39},{"b":"RV6","o":"Te","w":"strong","k":0.1,"E":-0.405},{"b":"RV6","o":"Te","w":"strong","k":0.15,"E":-0.42},{"b":"RV6","o":"Te","w":"strong","k":0.2,"E":-0.43},{"b":"RV6","o":"Te","w":"strong","k":0.23,"E":-0.435},
{"b":"RV7","o":"mix","w":"mid","k":0.1,"E":-0.5},{"b":"RV7","o":"mix","w":"mid","k":0.137,"E":-0.439},{"b":"RV7","o":"mix","w":"mid","k":0.192,"E":-0.35},{"b":"RV7","o":"mix","w":"mid","k":0.239,"E":-0.272},{"b":"RV7","o":"mix","w":"mid","k":0.276,"E":-0.194},{"b":"RV7","o":"mix","w":"mid","k":0.304,"E":-0.138},{"b":"RV7","o":"mix","w":"mid","k":0.34,"E":-0.115},{"b":"RV7","o":"mix","w":"mid","k":0.37,"E":-0.1},{"b":"RV7","o":"mix","w":"mid","k":0.4,"E":-0.07},{"b":"RV7","o":"mix","w":"mid","k":0.42,"E":-0.05},
{"b":"RV8","o":"mix","w":"weak","k":0.275,"E":-0.5},{"b":"RV8","o":"mix","w":"weak","k":0.3,"E":-0.43},{"b":"RV8","o":"mix","w":"weak","k":0.33,"E":-0.33},{"b":"RV8","o":"mix","w":"weak","k":0.36,"E":-0.24},{"b":"RV8","o":"mix","w":"weak","k":0.39,"E":-0.16},{"b":"RV8","o":"mix","w":"weak","k":0.41,"E":-0.12},
{"b":"RV9","o":"Te","w":"strong","k":0.29,"E":-0.5},{"b":"RV9","o":"Te","w":"strong","k":0.32,"E":-0.42},{"b":"RV9","o":"Te","w":"strong","k":0.35,"E":-0.32},{"b":"RV9","o":"Te","w":"strong","k":0.37,"E":-0.27},{"b":"RV9","o":"Te","w":"strong","k":0.395,"E":-0.237},{"b":"RV9","o":"Te","w":"strong","k":0.42,"E":-0.28},{"b":"RV9","o":"Te","w":"strong","k":0.45,"E":-0.35},{"b":"RV9","o":"Te","w":"strong","k":0.47,"E":-0.4},{"b":"RV9","o":"Te","w":"strong","k":0.5,"E":-0.42},
{"b":"RV10","o":"Te","w":"strong","k":0.5,"E":-0.42},{"b":"RV10","o":"Te","w":"strong","k":0.53,"E":-0.4},{"b":"RV10","o":"Te","w":"strong","k":0.56,"E":-0.35},{"b":"RV10","o":"Te","w":"strong","k":0.59,"E":-0.29},{"b":"RV10","o":"Te","w":"strong","k":0.615,"E":-0.245},{"b":"RV10","o":"Te","w":"strong","k":0.64,"E":-0.28},{"b":"RV10","o":"Te","w":"strong","k":0.67,"E":-0.36},{"b":"RV10","o":"Te","w":"strong","k":0.7,"E":-0.45},{"b":"RV10","o":"Te","w":"strong","k":0.72,"E":-0.5},
{"b":"RV11","o":"Te","w":"strong","k":0.677,"E":-0.171},{"b":"RV11","o":"Te","w":"strong","k":0.715,"E":-0.227},{"b":"RV11","o":"Te","w":"strong","k":0.752,"E":-0.294},{"b":"RV11","o":"Te","w":"strong","k":0.798,"E":-0.383},{"b":"RV11","o":"Te","w":"strong","k":0.845,"E":-0.472},{"b":"RV11","o":"Te","w":"strong","k":0.863,"E":-0.5},
{"b":"RV12","o":"mix","w":"weak","k":0.64,"E":-0.216},{"b":"RV12","o":"mix","w":"weak","k":0.677,"E":-0.27},{"b":"RV12","o":"mix","w":"weak","k":0.715,"E":-0.35},{"b":"RV12","o":"mix","w":"weak","k":0.752,"E":-0.439},{"b":"RV12","o":"mix","w":"weak","k":0.78,"E":-0.5},
{"b":"RV13","o":"Te","w":"strong","k":0.72,"E":-0.22},{"b":"RV13","o":"Te","w":"strong","k":0.76,"E":-0.28},{"b":"RV13","o":"Te","w":"strong","k":0.8,"E":-0.34},{"b":"RV13","o":"Te","w":"strong","k":0.84,"E":-0.41},{"b":"RV13","o":"Te","w":"strong","k":0.886,"E":-0.5},
{"b":"RV14","o":"mix","w":"mid","k":0.66,"E":-0.25},{"b":"RV14","o":"mix","w":"mid","k":0.7,"E":-0.3},{"b":"RV14","o":"mix","w":"mid","k":0.74,"E":-0.36},{"b":"RV14","o":"mix","w":"mid","k":0.78,"E":-0.43},{"b":"RV14","o":"mix","w":"mid","k":0.82,"E":-0.5},
{"b":"RV15","o":"mix","w":"weak","k":0.56,"E":-0.36},{"b":"RV15","o":"mix","w":"weak","k":0.6,"E":-0.4},{"b":"RV15","o":"mix","w":"weak","k":0.64,"E":-0.44},{"b":"RV15","o":"mix","w":"weak","k":0.68,"E":-0.5},
{"b":"RV16","o":"mix","w":"weak","k":0.6,"E":-0.3},{"b":"RV16","o":"mix","w":"weak","k":0.64,"E":-0.36},{"b":"RV16","o":"mix","w":"weak","k":0.68,"E":-0.42},{"b":"RV16","o":"mix","w":"weak","k":0.72,"E":-0.47},{"b":"RV16","o":"mix","w":"weak","k":0.74,"E":-0.5},
{"b":"RV17","o":"mix","w":"weak","k":0.37,"E":-0.5},{"b":"RV17","o":"mix","w":"weak","k":0.4,"E":-0.45},{"b":"RV17","o":"mix","w":"weak","k":0.42,"E":-0.42},{"b":"RV17","o":"mix","w":"weak","k":0.44,"E":-0.45},{"b":"RV17","o":"mix","w":"weak","k":0.46,"E":-0.5},
{"b":"RV18","o":"mix","w":"weak","k":0.54,"E":-0.5},{"b":"RV18","o":"mix","w":"weak","k":0.56,"E":-0.45},{"b":"RV18","o":"mix","w":"weak","k":0.58,"E":-0.42},{"b":"RV18","o":"mix","w":"weak","k":0.6,"E":-0.45},{"b":"RV18","o":"mix","w":"weak","k":0.63,"E":-0.5},
{"b":"RB1","o":"Bi","w":"strong","k":0.44,"E":-0.3},{"b":"RB1","o":"Bi","w":"strong","k":0.47,"E":-0.26},{"b":"RB1","o":"Bi","w":"strong","k":0.5,"E":-0.3},{"b":"RB1","o":"Bi","w":"strong","k":0.53,"E":-0.26},{"b":"RB1","o":"Bi","w":"strong","k":0.56,"E":-0.3},
{"b":"RB2","o":"Bi","w":"strong","k":0.43,"E":-0.36},{"b":"RB2","o":"Bi","w":"strong","k":0.46,"E":-0.31},{"b":"RB2","o":"Bi","w":"strong","k":0.48,"E":-0.33},{"b":"RB2","o":"Bi","w":"strong","k":0.5,"E":-0.36},{"b":"RB2","o":"Bi","w":"strong","k":0.52,"E":-0.33},{"b":"RB2","o":"Bi","w":"strong","k":0.54,"E":-0.31},{"b":"RB2","o":"Bi","w":"strong","k":0.57,"E":-0.36},
{"b":"RB3","o":"Bi","w":"strong","k":0.42,"E":-0.42},{"b":"RB3","o":"Bi","w":"strong","k":0.45,"E":-0.37},{"b":"RB3","o":"Bi","w":"strong","k":0.48,"E":-0.4},{"b":"RB3","o":"Bi","w":"strong","k":0.5,"E":-0.42},{"b":"RB3","o":"Bi","w":"strong","k":0.52,"E":-0.4},{"b":"RB3","o":"Bi","w":"strong","k":0.55,"E":-0.37},{"b":"RB3","o":"Bi","w":"strong","k":0.58,"E":-0.42},
{"b":"RB4","o":"Bi","w":"mid","k":0.44,"E":-0.47},{"b":"RB4","o":"Bi","w":"mid","k":0.47,"E":-0.43},{"b":"RB4","o":"Bi","w":"mid","k":0.5,"E":-0.46},{"b":"RB4","o":"Bi","w":"mid","k":0.53,"E":-0.43},{"b":"RB4","o":"Bi","w":"mid","k":0.56,"E":-0.47},
{"b":"RB5","o":"Bi","w":"mid","k":0.47,"E":-0.5},{"b":"RB5","o":"Bi","w":"mid","k":0.5,"E":-0.48},{"b":"RB5","o":"Bi","w":"mid","k":0.53,"E":-0.5},
{"b":"CH1","o":"mix","w":"weak","k":0.48,"E":-0.26},{"b":"CH1","o":"mix","w":"weak","k":0.5,"E":-0.22},{"b":"CH1","o":"mix","w":"weak","k":0.52,"E":-0.26},
{"b":"CH2","o":"mix","w":"weak","k":0.485,"E":-0.235},{"b":"CH2","o":"mix","w":"weak","k":0.5,"E":-0.2},{"b":"CH2","o":"mix","w":"weak","k":0.515,"E":-0.235}
],
"legend": [
{"o":"Te","part":"name","t":"Te","k":0.743,"E":0.052},
{"o":"Te","part":"p","t":"p","k":0.832,"E":0.052},
{"o":"Te","part":"z","t":"z","k":0.877,"E":0.026},
{"o":"Bi","part":"name","t":"Bi","k":0.743,"E":-0.09},
{"o":"Bi","part":"p","t":"p","k":0.826,"E":-0.09},
{"o":"Bi","part":"z","t":"z","k":0.872,"E":-0.118}
],
"dots": [
{"o":"Te","k":0.937,"E":0.072},
{"o":"Bi","k":0.937,"E":-0.075}
]
},
"hconcat": [
{
 "width": 363, "height": 301,
 "title": {"text": "without atomic relaxation", "font": "Open Sans", "fontSize": 19.5, "fontWeight": "normal", "color": "#111", "anchor": "middle", "frame": "group", "dx": -10, "offset": 7},
 "layer": [
  {"data": {"name": "left"}, "mark": {"type": "line", "color": "#2020c4", "strokeWidth": 2.2, "interpolate": "monotone", "clip": true},
   "encoding": {
    "x": {"field": "k", "type": "quantitative", "scale": {"domain": [0, 1], "nice": false, "zero": false},
          "axis": {"title": null, "values": [0, 0.03, 0.352, 0.676, 1], "labelExpr": "datum.value == 0 ? 'Γ' : datum.value < 0.05 ? 'Z' : datum.value < 0.5 ? 'F' : datum.value < 0.9 ? 'Γ' : 'L'", "labelPadding": 9, "labelOverlap": false, "labelFlush": false,
                   "labelAlign": {"condition": {"test": "datum.value == 0", "value": "right"}, "value": "center"},
                   "labelFont": {"condition": {"test": "datum.value == 0 || (datum.value > 0.6 && datum.value < 0.7)", "value": "Liberation Serif"}, "value": "DejaVu Sans"}}},
    "y": {"field": "E", "type": "quantitative", "scale": {"domain": [-1, 1], "nice": false, "zero": false},
          "axis": {"title": "Energy (eV)", "values": [-1, -0.5, 0, 0.5, 1], "labelExpr": "datum.value == 0 ? '0' : datum.value == 1 ? '1' : datum.value == -1 ? '-1' : datum.value == 0.5 ? '0.5' : '-0.5'", "labelPadding": 14, "titlePadding": 8, "labelFlush": false}},
    "detail": {"field": "b", "type": "nominal"}
   }},
  {"data": {"values": [{"k": 0.03}, {"k": 0.352}, {"k": 0.676}]}, "mark": {"type": "rule", "color": "#333", "strokeWidth": 2, "strokeDash": [8, 6]},
   "encoding": {"x": {"field": "k", "type": "quantitative", "title": null}}},
  {"data": {"values": [{"E": 0}]}, "mark": {"type": "rule", "color": "#333", "strokeWidth": 2, "strokeDash": [8, 6]},
   "encoding": {"y": {"field": "E", "type": "quantitative", "title": "Energy (eV)"}}}
 ]
},
{
 "width": 361, "height": 299,
 "layer": [
  {"data": {"name": "right"}, "transform": [{"filter": "datum.w == 'strong'"}],
   "mark": {"type": "line", "color": "#2a0b3a", "strokeWidth": 6, "interpolate": "monotone", "clip": true},
   "encoding": {
    "x": {"field": "k", "type": "quantitative", "scale": {"domain": [0, 1], "nice": false, "zero": false},
          "axis": {"title": null, "values": [0, 0.5, 1], "labelExpr": "datum.value == 0 ? 'F' : datum.value == 1 ? 'L' : 'Γ'", "labelFontSize": 22, "labelPadding": 11, "labelOverlap": false, "labelFlush": false,
                   "labelFont": {"condition": {"test": "datum.value == 0.5", "value": "Liberation Serif"}, "value": "DejaVu Sans"}}},
    "y": {"field": "E", "type": "quantitative", "scale": {"domain": [-0.5, 0.5], "nice": false, "zero": false},
          "axis": {"title": "Energy (eV)", "values": [-0.5, 0, 0.5], "labelExpr": "datum.value == 0 ? '0' : datum.value == 0.5 ? '0.5' : '-0.5'", "labelPadding": 14, "titlePadding": 8, "labelFlush": false}},
    "detail": {"field": "b", "type": "nominal"}
   }},
  {"data": {"name": "right"}, "transform": [{"filter": "datum.w == 'strong'"}],
   "mark": {"type": "line", "strokeWidth": 3.4, "interpolate": "monotone", "clip": true},
   "encoding": {
    "x": {"field": "k", "type": "quantitative", "title": null},
    "y": {"field": "E", "type": "quantitative", "title": "Energy (eV)"},
    "detail": {"field": "b", "type": "nominal"},
    "color": {"field": "o", "type": "nominal", "scale": {"domain": ["Te", "Bi", "mix"], "range": ["#e31e26", "#1f1fb8", "#581448"]}, "legend": null}
   }},
  {"data": {"name": "right"}, "transform": [{"filter": "datum.w == 'mid'"}],
   "mark": {"type": "line", "strokeWidth": 2.4, "interpolate": "monotone", "clip": true},
   "encoding": {
    "x": {"field": "k", "type": "quantitative", "title": null},
    "y": {"field": "E", "type": "quantitative", "title": "Energy (eV)"},
    "detail": {"field": "b", "type": "nominal"},
    "color": {"field": "o", "type": "nominal", "legend": null}
   }},
  {"data": {"name": "right"}, "transform": [{"filter": "datum.w == 'weak'"}],
   "mark": {"type": "line", "color": "#3b0b33", "strokeWidth": 3, "strokeDash": [0.5, 3], "strokeCap": "round", "interpolate": "monotone", "clip": true},
   "encoding": {
    "x": {"field": "k", "type": "quantitative", "title": null},
    "y": {"field": "E", "type": "quantitative", "title": "Energy (eV)"},
    "detail": {"field": "b", "type": "nominal"}
   }},
  {"data": {"values": [{"k": 0.5}]}, "mark": {"type": "rule", "color": "#333", "strokeWidth": 2, "strokeDash": [8, 6]},
   "encoding": {"x": {"field": "k", "type": "quantitative", "title": null}}},
  {"data": {"values": [{"E": 0}]}, "mark": {"type": "rule", "color": "#333", "strokeWidth": 2, "strokeDash": [8, 6]},
   "encoding": {"y": {"field": "E", "type": "quantitative", "title": "Energy (eV)"}}},
  {"data": {"name": "dots"}, "mark": {"type": "point", "filled": true, "size": 90, "opacity": 1},
   "encoding": {
    "x": {"field": "k", "type": "quantitative", "title": null},
    "y": {"field": "E", "type": "quantitative", "title": "Energy (eV)"},
    "color": {"field": "o", "type": "nominal", "legend": null}
   }},
  {"data": {"name": "legend"}, "transform": [{"filter": "datum.part == 'name'"}],
   "mark": {"type": "text", "align": "left", "baseline": "alphabetic", "font": "DejaVu Sans", "fontSize": 24, "color": "#222"},
   "encoding": {"x": {"field": "k", "type": "quantitative", "title": null}, "y": {"field": "E", "type": "quantitative", "title": "Energy (eV)"}, "text": {"field": "t"}}},
  {"data": {"name": "legend"}, "transform": [{"filter": "datum.part == 'p'"}],
   "mark": {"type": "text", "align": "left", "baseline": "alphabetic", "font": "DejaVu Sans", "fontStyle": "italic", "fontSize": 24, "color": "#222"},
   "encoding": {"x": {"field": "k", "type": "quantitative", "title": null}, "y": {"field": "E", "type": "quantitative", "title": "Energy (eV)"}, "text": {"field": "t"}}},
  {"data": {"name": "legend"}, "transform": [{"filter": "datum.part == 'z'"}],
   "mark": {"type": "text", "align": "left", "baseline": "alphabetic", "font": "DejaVu Sans", "fontStyle": "italic", "fontSize": 16, "color": "#222"},
   "encoding": {"x": {"field": "k", "type": "quantitative", "title": null}, "y": {"field": "E", "type": "quantitative", "title": "Energy (eV)"}, "text": {"field": "t"}}}
 ]
}
]
}
